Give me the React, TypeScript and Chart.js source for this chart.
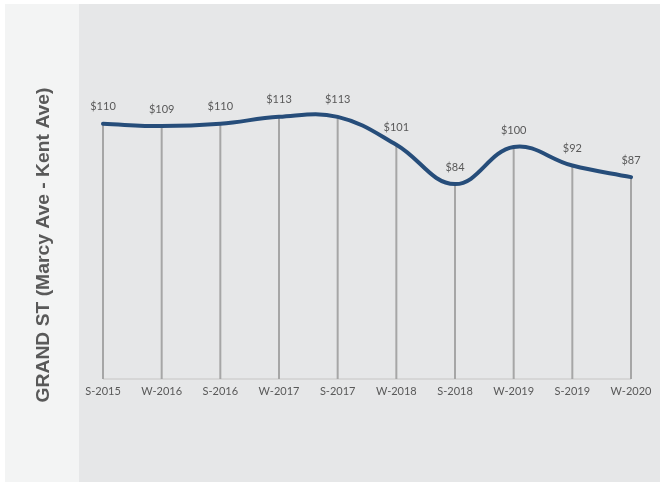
import React, { useEffect, useRef } from "react";
import { Chart, registerables } from "chart.js";

Chart.register(...registerables);

// Season labels along the x axis
const seasons = [
  "S-2015",
  "W-2016",
  "S-2016",
  "W-2017",
  "S-2017",
  "W-2018",
  "S-2018",
  "W-2019",
  "S-2019",
  "W-2020",
];

// Average values per season
const prices = [110, 109, 110, 113, 113, 101, 84, 100, 92, 87];

const title = "GRAND ST (Marcy Ave - Kent Ave)";

const W = 660;
const H = 483;

// Panel backgrounds, drop lines, value labels and the rotated side title
const decorPlugin = {
  id: "decor",
  beforeDraw(chart: any) {
    const ctx = chart.ctx;
    ctx.save();
    ctx.fillStyle = "#ffffff";
    ctx.fillRect(0, 0, W, H);
    ctx.fillStyle = "#e6e7e8";
    ctx.fillRect(5, 4, W - 5, 478);
    ctx.fillStyle = "#f3f4f4";
    ctx.fillRect(5, 4, 74, 478);
    ctx.restore();
  },
  beforeDatasetsDraw(chart: any) {
    const ctx = chart.ctx;
    const meta = chart.getDatasetMeta(0);
    const y0 = chart.scales.y.getPixelForValue(0);
    ctx.save();
    // baseline
    ctx.strokeStyle = "#d6d6d6";
    ctx.lineWidth = 2;
    ctx.beginPath();
    ctx.moveTo(meta.data[0].x, y0);
    ctx.lineTo(meta.data[meta.data.length - 1].x, y0);
    ctx.stroke();
    // drop lines
    ctx.strokeStyle = "#a6a6a6";
    ctx.lineWidth = 2;
    meta.data.forEach((pt: any) => {
      ctx.beginPath();
      ctx.moveTo(pt.x, pt.y);
      ctx.lineTo(pt.x, y0);
      ctx.stroke();
    });
    ctx.restore();
  },
  afterDatasetsDraw(chart: any) {
    const ctx = chart.ctx;
    const meta = chart.getDatasetMeta(0);
    ctx.save();
    ctx.fillStyle = "#595959";
    ctx.font = "11px Lato, 'Liberation Sans', sans-serif";
    ctx.textAlign = "center";
    ctx.textBaseline = "middle";
    meta.data.forEach((pt: any, i: number) => {
      ctx.fillText("$" + prices[i], pt.x, pt.y - 17);
    });
    // rotated title on the left panel
    ctx.translate(43, 245);
    ctx.rotate(-Math.PI / 2);
    ctx.font = "bold 19px 'Liberation Sans', Arial, sans-serif";
    const w = ctx.measureText(title).width;
    ctx.scale(315 / w, 1);
    ctx.fillStyle = "#595959";
    ctx.textAlign = "center";
    ctx.textBaseline = "middle";
    ctx.fillText(title, 0, 1);
    ctx.restore();
  },
};

export default function App() {
  const canvasRef = useRef<HTMLCanvasElement | null>(null);

  useEffect(() => {
    if (!canvasRef.current) return;
    const chart = new Chart(canvasRef.current, {
      type: "line",
      data: {
        labels: seasons,
        datasets: [
          {
            data: prices,
            borderColor: "#264d7a",
            borderWidth: 4,
            borderCapStyle: "round",
            tension: 0.4,
            pointRadius: 0,
            fill: false,
          },
        ],
      },
      options: {
        animation: false,
        responsive: false,
        maintainAspectRatio: false,
        layout: {
          padding: { left: 103, right: 29, top: 31, bottom: 74 },
        },
        plugins: {
          legend: { display: false },
          tooltip: { enabled: false },
          title: { display: false },
        },
        scales: {
          x: {
            offset: false,
            grid: { display: false, drawTicks: false, tickLength: 0 },
            border: { display: false },
            ticks: {
              color: "#595959",
              font: { family: "Lato, 'Liberation Sans', sans-serif", size: 11 },
              padding: 6,
              maxRotation: 0,
              autoSkip: false,
            },
            afterFit: (scale: any) => {
              scale.height = 30;
            },
          },
          y: {
            display: false,
            min: 0,
            max: 150,
          },
        },
      },
      plugins: [decorPlugin],
    });
    return () => chart.destroy();
  }, []);

  return (
    <div style={{ position: "absolute", left: 0, top: 0, width: W, height: H }}>
      <canvas ref={canvasRef} width={W} height={H} style={{ display: "block" }} />
    </div>
  );
}
